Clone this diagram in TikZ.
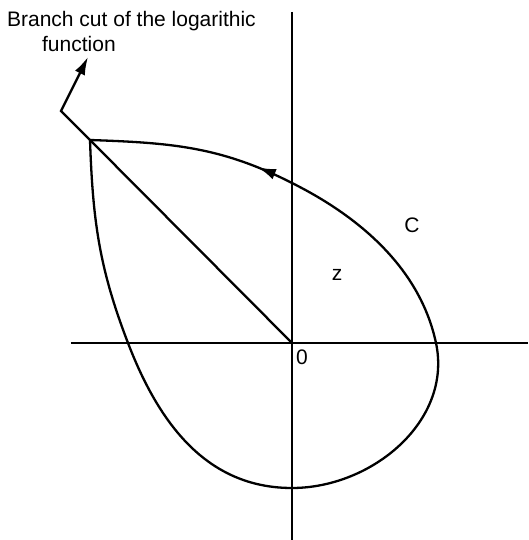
\documentclass[tikz,border=0pt]{standalone}
\usepackage{fontspec}
\setmainfont{Liberation Sans}
\usetikzlibrary{arrows.meta,decorations.markings}
\begin{document}
\begin{tikzpicture}[x=1pt,y=1pt, line width=2.3pt,
  lbl/.style={font=\fontsize{21}{25}\selectfont, inner sep=0pt},
  tiparrow/.style={-{Latex[length=18pt,width=11pt]}},
  midarrow/.style={postaction={decorate}, decoration={markings, mark=at position #1 with {\arrow{Latex[length=18pt,width=11pt]}}}}]
\useasboundingbox (-292,-197) rectangle (236,343);
% axes
\coordinate (xl) at (-221,0);
\coordinate (xr) at (236,0);
\coordinate (yt) at (0,331);
\coordinate (yb) at (0,-197);
\draw (xl) -- (xr);
\draw (yt) -- (yb);
% contour points
\coordinate (O) at (0,0);
\coordinate (P) at (-202,203);
\coordinate (L) at (-164,0);
\coordinate (B) at (0,-145);
\coordinate (R) at (144,0);
\coordinate (T) at (0,160);
\draw (P) to[out=-88,in=111] (L) to[out=-69,in=180] (B) to[out=0,in=-78] (R) .. controls (129.4,68.5) and (76,122) .. (T);
\draw[midarrow=0.18] (T) to[out=153,in=-2] (P);
\draw (P) -- (O);
% branch cut arrow
\coordinate (K) at (-231,232);
\coordinate (A) at (-204,286);
\draw[tiparrow] (P) -- (K) -- (A);
% labels
\node[lbl, anchor=base west, align=left] (cut) at (-286,291) {Branch cut of the logarithic\\\hspace*{35pt}function};
\node[lbl] (c) at (120,118) {C};
\node[lbl] (z) at (45,68) {z};
\node[lbl] (zero) at (10,-14) {0};
\end{tikzpicture}
\end{document}
